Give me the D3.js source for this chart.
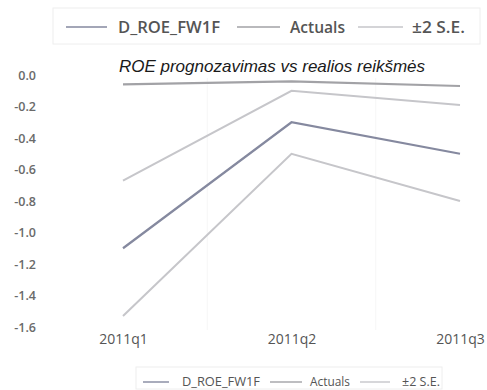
<!DOCTYPE html>
<html>
<head>
<meta charset="utf-8">
<script src="https://cdn.jsdelivr.net/npm/d3@7/dist/d3.min.js"></script>
<style>
  html, body { margin: 0; padding: 0; background: #fff; }
  svg { display: block; }
</style>
</head>
<body>
<svg id="chart" width="487" height="390"></svg>
<script>
// Quarters on the x axis
const categories = ["2011q1", "2011q2", "2011q3"];
// Forecast, actual values and the ±2 standard error band
const forecast = [-1.1, -0.3, -0.5];
const actuals = [-0.06, -0.04, -0.07];
const upperSE = [-0.67, -0.1, -0.19];
const lowerSE = [-1.53, -0.5, -0.8];
const yTicks = [0, -0.2, -0.4, -0.6, -0.8, -1.0, -1.2, -1.4, -1.6];
const legendLabels = ["D_ROE_FW1F", "Actuals", "±2 S.E."];
const titleText = "ROE prognozavimas vs realios reikšmės";

const svg = d3.select("#chart");

const x = d3.scalePoint().domain(categories).range([123, 460]);
const y = d3.scaleLinear().domain([-1.6, 0]).range([327, 75]);

// faint separators between category slots
const step = x.step();
svg.append("g").selectAll("line")
  .data(categories.slice(1))
  .join("line")
  .attr("x1", d => x(d) - step / 2)
  .attr("x2", d => x(d) - step / 2)
  .attr("y1", 78).attr("y2", 330)
  .attr("stroke", "#f6f6f6").attr("stroke-width", 1);

// y axis labels
const yAxis = d3.axisLeft(y).tickValues(yTicks).tickSize(0).tickPadding(0);
const gy = svg.append("g").attr("transform", "translate(36,0)").call(yAxis);
gy.select(".domain").remove();
gy.selectAll("text")
  .attr("font-family", "Open Sans, sans-serif")
  .attr("font-size", 12.5)
  .attr("font-weight", 600)
  .attr("fill", "#6a6a6a")
  .text(d => d3.format(".1f")(d).replace("−", "-"));

// x axis labels
const xAxis = d3.axisBottom(x).tickSize(0).tickPadding(0);
const gx = svg.append("g").attr("transform", "translate(0,334)").call(xAxis);
gx.select(".domain").remove();
gx.selectAll("text")
  .attr("font-family", "Open Sans, sans-serif")
  .attr("font-size", 14)
  .attr("fill", "#555");

// title
svg.append("text")
  .attr("x", 272).attr("y", 72)
  .attr("text-anchor", "middle")
  .attr("font-family", "Liberation Sans, Arial, sans-serif")
  .attr("font-style", "italic")
  .attr("font-size", 17)
  .attr("fill", "#1a1a1a")
  .text(titleText);

const line = d3.line().x((d, i) => x(categories[i])).y(d => y(d));

const series = [
  { values: upperSE, color: "#c6c6ca", width: 2 },
  { values: lowerSE, color: "#c6c6ca", width: 2 },
  { values: actuals, color: "#a2a2a6", width: 2.2 },
  { values: forecast, color: "#85899f", width: 2.2 }
];
svg.append("g").selectAll("path")
  .data(series)
  .join("path")
  .attr("d", d => line(d.values))
  .attr("fill", "none")
  .attr("stroke", d => d.color)
  .attr("stroke-width", d => d.width)
  .attr("stroke-linejoin", "miter");

// legends (top large, bottom small)
const legendColors = ["#85899f", "#a2a2a6", "#c6c6ca"];
function drawLegend(cfg) {
  const g = svg.append("g");
  g.append("rect")
    .attr("x", cfg.x).attr("y", cfg.y).attr("width", cfg.w).attr("height", cfg.h)
    .attr("fill", "#fff").attr("stroke", "#eeeeee").attr("stroke-width", 1);
  legendLabels.forEach((lab, i) => {
    const it = cfg.items[i];
    g.append("line")
      .attr("x1", it.lx1).attr("x2", it.lx2)
      .attr("y1", cfg.cy).attr("y2", cfg.cy)
      .attr("stroke", legendColors[i]).attr("stroke-width", cfg.sw);
    g.append("text")
      .attr("x", it.tx).attr("y", cfg.cy)
      .attr("dy", "0.35em")
      .attr("font-family", "Open Sans, sans-serif")
      .attr("font-weight", cfg.weight)
      .attr("font-size", cfg.fs)
      .attr("fill", "#555")
      .attr("textLength", it.tw)
      .attr("lengthAdjust", "spacingAndGlyphs")
      .text(lab);
  });
}
drawLegend({
  x: 53, y: 8, w: 427, h: 36, cy: 27, fs: 16, sw: 1.6, weight: 600,
  items: [
    { lx1: 66, lx2: 107, tx: 118, tw: 102 },
    { lx1: 237, lx2: 280, tx: 290, tw: 55 },
    { lx1: 358, lx2: 403, tx: 412, tw: 53 }
  ]
});
drawLegend({
  x: 136, y: 367, w: 306, h: 22, cy: 382, fs: 12, sw: 1.4, weight: 400,
  items: [
    { lx1: 143, lx2: 169, tx: 182, tw: 78 },
    { lx1: 270, lx2: 302, tx: 310, tw: 40 },
    { lx1: 360, lx2: 390, tx: 402, tw: 38 }
  ]
});
</script>
</body>
</html>
